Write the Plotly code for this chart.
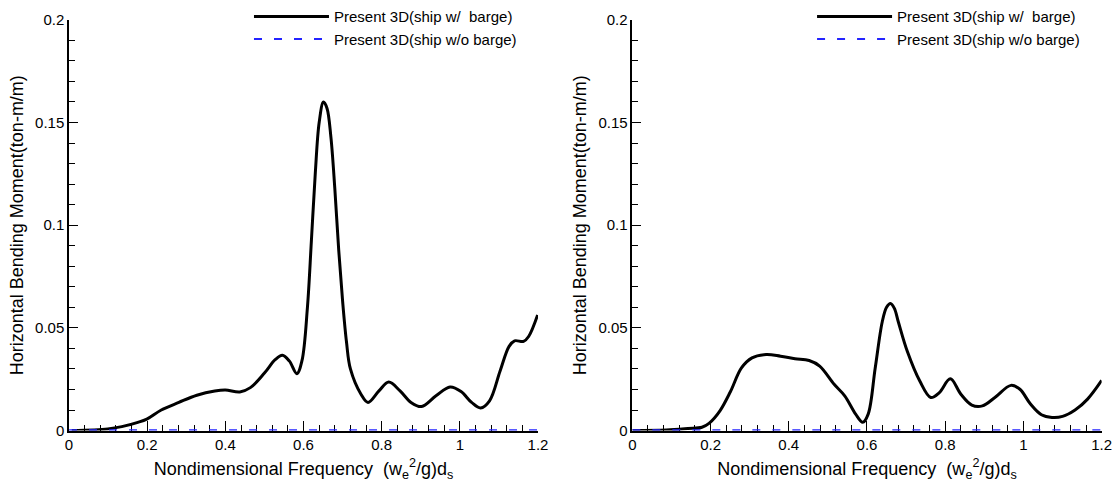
import plotly.graph_objects as go

# Ship with barge alongside: left panel
freq_left = [0.007, 0.099, 0.135, 0.176, 0.199, 0.236, 0.281, 0.327, 0.373, 0.400,
             0.437, 0.464, 0.500, 0.528, 0.546, 0.564, 0.583, 0.596, 0.610, 0.620,
             0.630, 0.640, 0.651, 0.660, 0.670, 0.680, 0.690, 0.700, 0.710, 0.720,
             0.747, 0.765, 0.793, 0.818, 0.847, 0.875, 0.902, 0.939, 0.975, 1.003,
             1.030, 1.053, 1.076, 1.103, 1.126, 1.140, 1.163, 1.176, 1.199]
moment_left = [0.0, 0.0008, 0.0019, 0.004, 0.0056, 0.010, 0.0137, 0.0172, 0.0193, 0.0198,
               0.0188, 0.0209, 0.028, 0.0346, 0.0367, 0.0338, 0.0277, 0.034, 0.060, 0.092,
               0.125, 0.150, 0.160, 0.157, 0.143, 0.118, 0.088, 0.063, 0.043, 0.030,
               0.0177, 0.0137, 0.0193, 0.0236, 0.0193, 0.0137, 0.0117, 0.0169, 0.0212, 0.019,
               0.0137, 0.011, 0.0145, 0.029, 0.041, 0.0437, 0.0434, 0.0458, 0.0563]

# Ship with barge alongside: right panel
freq_right = [0.0, 0.087, 0.142, 0.178, 0.196, 0.224, 0.251, 0.279, 0.306, 0.342,
              0.379, 0.416, 0.452, 0.479, 0.516, 0.543, 0.571, 0.589, 0.603, 0.621,
              0.639, 0.650, 0.660, 0.670, 0.680, 0.703, 0.735, 0.763, 0.785, 0.813,
              0.840, 0.868, 0.895, 0.927, 0.968, 0.991, 1.018, 1.046, 1.073, 1.100,
              1.132, 1.164, 1.200]
moment_right = [0.0, 0.0003, 0.001, 0.0016, 0.0035, 0.0096, 0.019, 0.0305, 0.0354, 0.037,
                0.0362, 0.035, 0.0341, 0.0314, 0.0225, 0.0169, 0.008, 0.004, 0.008, 0.0305,
                0.0530, 0.0600, 0.0619, 0.0595, 0.053, 0.0386, 0.0241, 0.0161, 0.0185, 0.0252,
                0.0177, 0.0124, 0.012, 0.0161, 0.022, 0.0201, 0.0129, 0.0077, 0.0064, 0.0069,
                0.010, 0.0153, 0.0244]

# Ship alone (no barge): response is negligible in both panels
freq_alone = [0.0, 0.2, 0.4, 0.6, 0.8, 1.0, 1.2]
moment_alone = [0.0002, 0.0002, 0.0002, 0.0002, 0.0002, 0.0002, 0.0002]

name_with = "Present 3D(ship w/  barge)"
name_without = "Present 3D(ship w/o barge)"
black = "#000000"
blue = "#2424ff"
font_family = "Liberation Sans, Arial, sans-serif"

fig = go.Figure()

panels = [
    ("x", "y", "legend", freq_left, moment_left),
    ("x2", "y2", "legend2", freq_right, moment_right),
]
for xa, ya, lg, fx, fy in panels:
    fig.add_trace(go.Scatter(
        x=fx, y=fy, mode="lines", name=name_with, xaxis=xa, yaxis=ya, legend=lg,
        line=dict(color=black, width=3, shape="spline", smoothing=1.0),
    ))
    fig.add_trace(go.Scatter(
        x=freq_alone, y=moment_alone, mode="lines", name=name_without,
        xaxis=xa, yaxis=ya, legend=lg,
        line=dict(color=blue, width=2, dash="8px,12px"),
    ))

x_title = "Nondimensional Frequency  (w<sub>e</sub><sup>2</sup>/g)d<sub>s</sub>"
y_title = "Horizontal Bending Moment(ton-m/m)"

def x_axis(domain, anchor):
    return dict(
        domain=domain, anchor=anchor, range=[0, 1.2], automargin=False,
        tickvals=[0, 0.2, 0.4, 0.6, 0.8, 1.0, 1.2],
        ticktext=["0", "0.2", "0.4", "0.6", "0.8", "1", "1.2"],
        ticks="inside", ticklen=10, tickwidth=1.3, tickcolor=black,
        minor=dict(dtick=0.04, ticks="inside", ticklen=6, tickwidth=1.2, tickcolor=black),
        showline=True, linecolor=black, linewidth=1.5, showgrid=False, zeroline=False,
        tickfont=dict(size=15, color=black, family=font_family),
        title=dict(text=x_title, font=dict(size=18, color=black, family=font_family), standoff=10),
        layer="below traces",
    )

def y_axis(anchor):
    return dict(
        domain=[0.1116, 0.969], anchor=anchor, range=[0, 0.2], automargin=False,
        tickvals=[0, 0.05, 0.1, 0.15, 0.2],
        ticktext=["0", "0.05", "0.1", "0.15", "0.2"],
        ticks="inside", ticklen=9, tickwidth=1.3, tickcolor=black,
        minor=dict(dtick=0.01, ticks="inside", ticklen=6, tickwidth=1.2, tickcolor=black),
        showline=True, linecolor=black, linewidth=1.5, showgrid=False, zeroline=False,
        tickfont=dict(size=15, color=black, family=font_family),
        title=dict(text=y_title, font=dict(size=18, color=black, family=font_family), standoff=7),
        layer="below traces",
    )

def legend_at(x):
    return dict(
        x=x, y=1.01, xanchor="left", yanchor="top",
        bgcolor="rgba(0,0,0,0)", borderwidth=0, itemwidth=75,
        font=dict(size=15, color=black, family=font_family),
        tracegroupgap=0, itemclick=False,
    )

fig.update_layout(
    width=1119, height=484,
    margin=dict(l=0, r=0, t=0, b=0),
    paper_bgcolor="white", plot_bgcolor="white",
    font=dict(family=font_family, color=black),
    xaxis=x_axis([0.0617, 0.4808], "y"),
    yaxis=y_axis("x"),
    xaxis2=x_axis([0.5651, 0.9845], "y2"),
    yaxis2=y_axis("x2"),
    legend=legend_at(0.2225),
    legend2=legend_at(0.7257),
    showlegend=True,
)

fig.write_html("out.html")
